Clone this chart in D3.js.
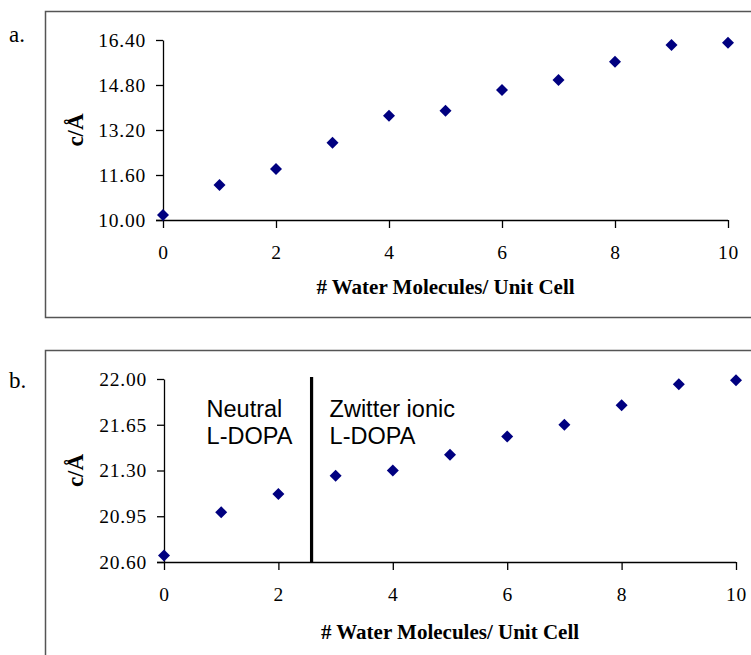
<!DOCTYPE html>
<html>
<head>
<meta charset="utf-8">
<script src="https://cdn.jsdelivr.net/npm/d3@7"></script>
<style>
  html, body { margin: 0; padding: 0; background: #fff; }
  svg { display: block; }
</style>
</head>
<body>
<svg id="chart" width="751" height="655"></svg>
<script>
// ---- data ----
const waterMolecules = [0, 1, 2, 3, 4, 5, 6, 7, 8, 9, 10];
const cValuesA = [10.18, 11.24, 11.81, 12.75, 13.71, 13.88, 14.62, 14.98, 15.63, 16.22, 16.30];
const cValuesB = [20.65, 20.98, 21.12, 21.26, 21.30, 21.42, 21.56, 21.65, 21.80, 21.96, 21.99];
const yTicksA = [10.00, 11.60, 13.20, 14.80, 16.40];
const yTicksB = [20.60, 20.95, 21.30, 21.65, 22.00];
const xTicks = [0, 2, 4, 6, 8, 10];
const xDomain = [0, 10];
const transitionX = 2.58;
const transitionTop = 22.015;
const regionLabels = [["Neutral", "L-DOPA"], ["Zwitter ionic", "L-DOPA"]];
const xTitle = "# Water Molecules/ Unit Cell";
const yTitle = "c/Å";

const svg = d3.select("#chart");
const serif = "'Liberation Serif', 'Times New Roman', serif";
const sans = "'Liberation Sans', Arial, sans-serif";

function panel(opts) {
  const g = svg.append("g");
  // frame
  g.append("rect")
    .attr("x", opts.frame[0]).attr("y", opts.frame[1])
    .attr("width", opts.frame[2]).attr("height", opts.frame[3])
    .attr("fill", "none").attr("stroke", "#555").attr("stroke-width", 1.5);
  // panel letter
  g.append("text").attr("x", 9).attr("y", opts.letterY)
    .attr("font-family", serif).attr("font-size", 23).text(opts.letter);

  const x = d3.scaleLinear().domain(xDomain).range([opts.left, opts.right]);
  const y = d3.scaleLinear().domain(opts.yDomain).range([opts.bottom, opts.top]);

  const yAxis = g.append("g").attr("transform", `translate(${opts.left},0)`)
    .call(d3.axisLeft(y).tickValues(opts.yTicks).tickFormat(d3.format(".2f"))
      .tickSize(7).tickSizeOuter(0).tickPadding(10));
  const xAxis = g.append("g").attr("transform", `translate(0,${opts.bottom})`)
    .call(d3.axisBottom(x).tickValues(xTicks).tickFormat(d3.format("d"))
      .tickSize(8).tickSizeOuter(0).tickPadding(17));
  [yAxis, xAxis].forEach(a => {
    a.select(".domain").attr("stroke", "#000").attr("stroke-width", 1.3);
    a.selectAll(".tick line").attr("stroke", "#000").attr("stroke-width", 1.3);
    a.selectAll(".tick text").attr("font-family", serif).attr("font-size", 19.5)
      .attr("letter-spacing", 0.8).attr("fill", "#000");
  });
  // extend x axis line left to tick length
  xAxis.select(".domain").attr("d", `M${opts.left - 7},0.5H${opts.right}`);

  // axis titles
  g.append("text")
    .attr("x", (opts.left + opts.right) / 2).attr("y", opts.xTitleY)
    .attr("text-anchor", "middle").attr("font-family", serif)
    .attr("font-weight", "bold").attr("font-size", 21).text(xTitle);
  g.append("text")
    .attr("transform", `translate(83,${(opts.top + opts.bottom) / 2}) rotate(-90)`)
    .attr("text-anchor", "middle").attr("font-family", serif)
    .attr("font-weight", "bold").attr("font-size", 23).text(yTitle);

  if (opts.annot) opts.annot(g, x, y);

  // points
  g.selectAll("path.pt").data(waterMolecules.map((w, i) => [w, opts.values[i]]))
    .join("path").attr("class", "pt")
    .attr("d", d3.symbol(d3.symbolSquare, 72)())
    .attr("transform", d => `translate(${x(d[0])},${y(d[1])}) rotate(45)`)
    .attr("fill", "#000080");
}

panel({
  frame: [45.5, 11.5, 720, 306], letter: "a.", letterY: 42,
  left: 163, right: 728, top: 40, bottom: 220,
  yDomain: [yTicksA[0], yTicksA[yTicksA.length - 1]], yTicks: yTicksA,
  values: cValuesA, xTitleY: 294
});

panel({
  frame: [45.5, 350.5, 720, 320], letter: "b.", letterY: 388,
  left: 164, right: 736, top: 379, bottom: 562,
  yDomain: [yTicksB[0], yTicksB[yTicksB.length - 1]], yTicks: yTicksB,
  values: cValuesB, xTitleY: 639,
  annot: (g, x, y) => {
    g.append("line")
      .attr("x1", x(transitionX)).attr("x2", x(transitionX))
      .attr("y1", y(transitionTop)).attr("y2", y(yTicksB[0]))
      .attr("stroke", "#000").attr("stroke-width", 3.2);
    const lx = [x(transitionX) - 105, x(transitionX) + 18];
    regionLabels.forEach((lines, i) => {
      lines.forEach((t, j) => {
        g.append("text").attr("x", lx[i]).attr("y", 416.5 + j * 27.3)
          .attr("font-family", sans).attr("font-size", 23.5).attr("fill", "#000").text(t);
      });
    });
  }
});
</script>
</body>
</html>
